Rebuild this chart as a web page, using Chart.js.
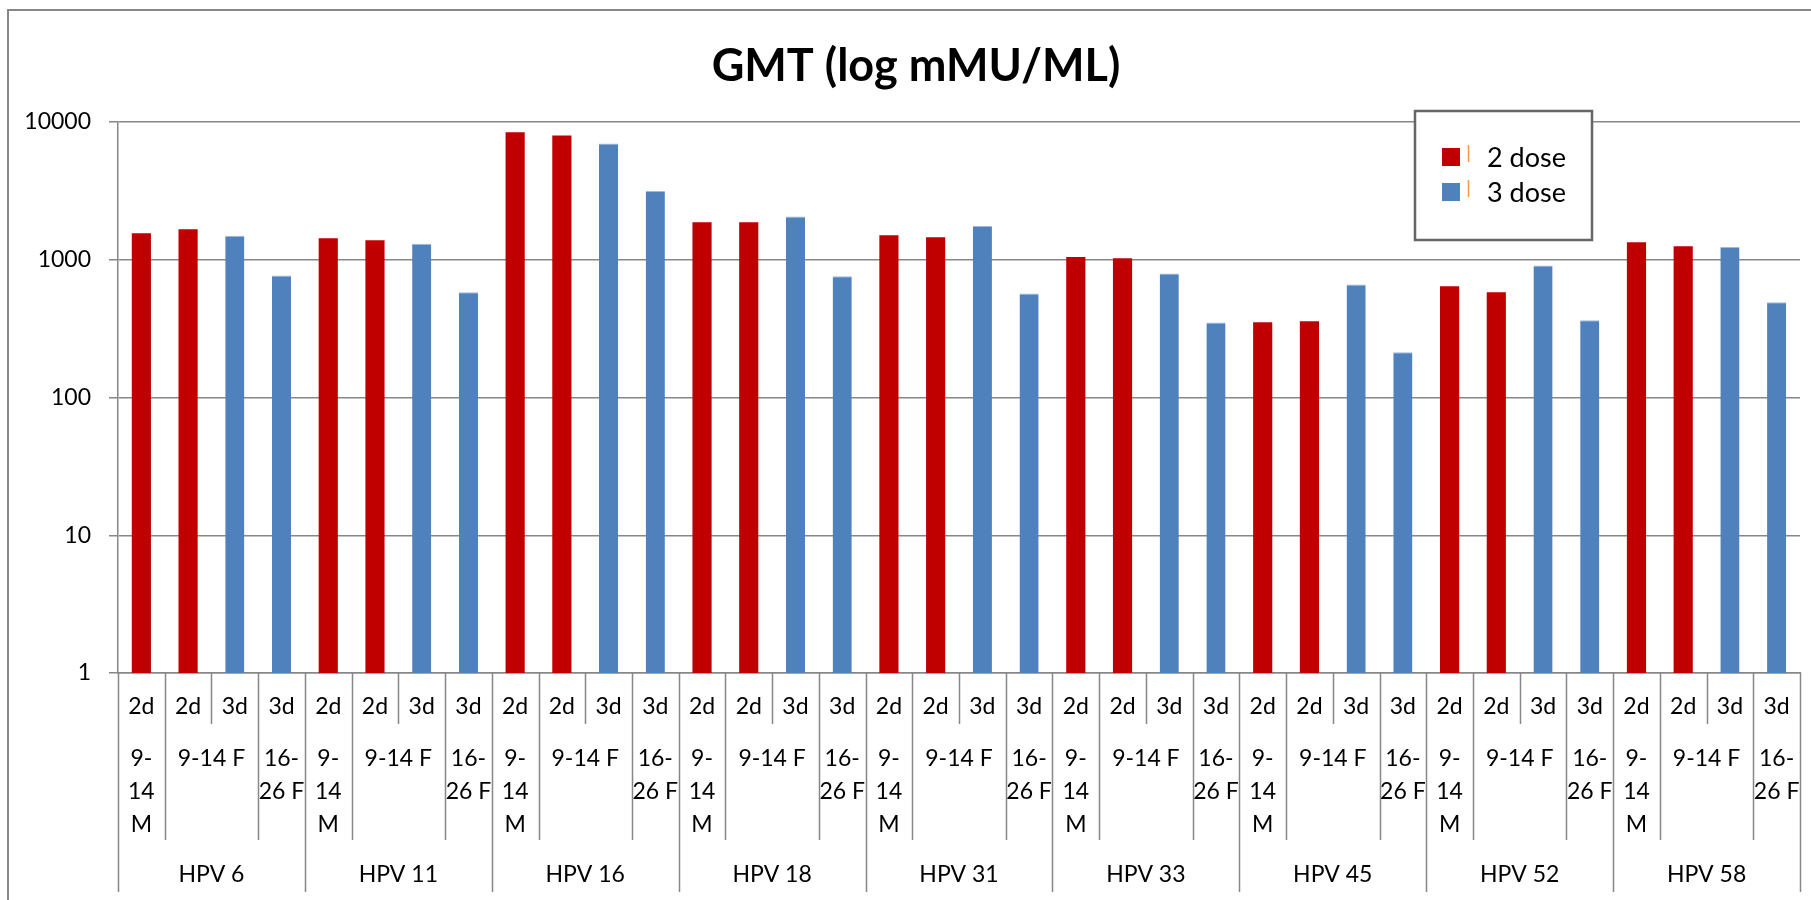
<!DOCTYPE html>
<html>
<head>
<meta charset="utf-8">
<title>GMT (log mMU/ML)</title>
<script src="https://cdn.jsdelivr.net/npm/chart.js@4.4.1/dist/chart.umd.min.js"></script>
<style>
  html, body { margin: 0; padding: 0; background: #fff; }
</style>
</head>
<body>
<canvas id="gmtChart" width="1811" height="900"></canvas>
<script>
// Valores (GMT, escala log)
const hpvTypes = ['HPV 6', 'HPV 11', 'HPV 16', 'HPV 18', 'HPV 31', 'HPV 33', 'HPV 45', 'HPV 52', 'HPV 58'];
const doseLabels = ['2d', '2d', '3d', '3d'];
const cohortLines = [['9-', '14', 'M'], ['9-14 F'], ['16-', '26 F']];
const cohortSpans = [1, 2, 1];
const gmt2dBoys = [1555, 1431, 8410, 1872, 1506, 1046, 352, 643, 1342];
const gmt2dGirls = [1668, 1386, 7995, 1872, 1459, 1026, 357, 581, 1251];
const gmt3dGirls = [1496, 1308, 6986, 2061, 1755, 794, 660, 909, 1235];
const gmt3dWomen = [769, 581, 3162, 760, 570, 350, 213, 364, 492];
const yTicks = [1, 10, 100, 1000, 10000];
const chartTitle = 'GMT (log mMU/ML)';

const FONT = 'Lato, "Open Sans", sans-serif';
const GRID = '#878787';

const labels = [];
const twoDose = [];
const threeDose = [];
hpvTypes.forEach((hpv, i) => {
  doseLabels.forEach(d => labels.push(`${hpv} ${d}`));
  twoDose.push(gmt2dBoys[i], gmt2dGirls[i], null, null);
  threeDose.push(null, null, gmt3dGirls[i], gmt3dWomen[i]);
});

// moldura externa + título (centralizado na área do gráfico do Excel, não no canvas)
const frameAndTitle = {
  id: 'frameAndTitle',
  beforeDraw(chart) {
    const { ctx } = chart;
    ctx.save();
    ctx.strokeStyle = GRID;
    ctx.lineWidth = 2;
    ctx.strokeRect(8, 10, chart.width + 10, chart.height + 10);
    ctx.fillStyle = '#000';
    ctx.font = `bold 45px ${FONT}`;
    ctx.textAlign = 'center';
    ctx.textBaseline = 'middle';
    ctx.fillText(chartTitle, 916, 66);
    ctx.restore();
  }
};

// eixo de categorias em 3 níveis (dose / coorte / tipo HPV)
const multiLevelAxis = {
  id: 'multiLevelAxis',
  afterDraw(chart) {
    const { ctx, chartArea } = chart;
    const x = chart.scales.x;
    const top = chartArea.bottom;
    const step = x.getPixelForValue(1) - x.getPixelForValue(0);
    const edge = i => x.getPixelForValue(i) - step / 2;
    const depthByPos = [top + 219, top + 167, top + 51, top + 167];

    ctx.save();
    ctx.strokeStyle = GRID;
    ctx.lineWidth = 1.5;
    for (let i = 0; i <= labels.length; i++) {
      const px = Math.round(edge(i)) + 0.5;
      const depth = i === labels.length ? depthByPos[0] : depthByPos[i % 4];
      ctx.beginPath();
      ctx.moveTo(px, top);
      ctx.lineTo(px, depth);
      ctx.stroke();
    }

    ctx.fillStyle = '#000';
    ctx.font = `23px ${FONT}`;
    ctx.textAlign = 'center';
    ctx.textBaseline = 'middle';
    labels.forEach((_, i) => {
      ctx.fillText(doseLabels[i % 4], x.getPixelForValue(i), top + 34);
    });

    hpvTypes.forEach((hpv, g) => {
      let col = g * 4;
      cohortLines.forEach((lines, c) => {
        const center = (edge(col) + edge(col + cohortSpans[c])) / 2;
        lines.forEach((line, l) => ctx.fillText(line, center, top + 86 + l * 33));
        col += cohortSpans[c];
      });
      ctx.fillText(hpv, (edge(g * 4) + edge(g * 4 + 4)) / 2, top + 202);
    });
    ctx.restore();
  }
};

const boxedLegend = {
  id: 'boxedLegend',
  afterDraw(chart) {
    const { ctx } = chart;
    ctx.save();
    ctx.fillStyle = '#fff';
    ctx.fillRect(1415, 111, 177, 129);
    ctx.strokeStyle = '#666';
    ctx.lineWidth = 2.5;
    ctx.strokeRect(1415, 111, 177, 129);
    chart.data.datasets.forEach((ds, i) => {
      const cy = 157 + i * 35;
      ctx.fillStyle = ds.backgroundColor;
      ctx.fillRect(1442, cy - 9, 18, 18);
      ctx.strokeStyle = '#F79646';
      ctx.lineWidth = 1.5;
      ctx.beginPath();
      ctx.moveTo(1468.5, cy - 12);
      ctx.lineTo(1468.5, cy + 5);
      ctx.stroke();
      ctx.fillStyle = '#000';
      ctx.font = `27px ${FONT}`;
      ctx.textAlign = 'left';
      ctx.textBaseline = 'middle';
      ctx.fillText(ds.label, 1487, cy + 1);
    });
    ctx.restore();
  }
};

new Chart(document.getElementById('gmtChart'), {
  type: 'bar',
  data: {
    labels,
    datasets: [
      { label: '2 dose', data: twoDose, backgroundColor: '#C00000' },
      { label: '3 dose', data: threeDose, backgroundColor: '#4F81BD', borderColor: '#9DB8DC', borderWidth: { top: 1 }, borderSkipped: 'bottom' }
    ]
  },
  options: {
    responsive: false,
    animation: false,
    layout: { padding: { left: 0, right: 11, top: 122, bottom: 0 } },
    datasets: { bar: { grouped: false, barPercentage: 0.41, categoryPercentage: 1 } },
    plugins: {
      legend: { display: false },
      tooltip: { enabled: false },
      title: { display: false }
    },
    scales: {
      x: {
        type: 'category',
        grid: { display: false },
        border: { display: true, color: GRID, width: 1.5 },
        ticks: { display: false },
        afterFit: scale => { scale.height = 227; }
      },
      y: {
        type: 'logarithmic',
        min: 1,
        max: 10000,
        afterBuildTicks: scale => { scale.ticks = yTicks.map(v => ({ value: v })); },
        afterFit: scale => { scale.width = 118; },
        grid: { color: GRID, lineWidth: 1.5, tickLength: 9 },
        border: { display: true, color: GRID, width: 1.5 },
        ticks: {
          color: '#000',
          padding: 18,
          font: { family: FONT, size: 23 },
          callback: value => String(value)
        }
      }
    }
  },
  plugins: [frameAndTitle, multiLevelAxis, boxedLegend]
});
</script>
</body>
</html>
